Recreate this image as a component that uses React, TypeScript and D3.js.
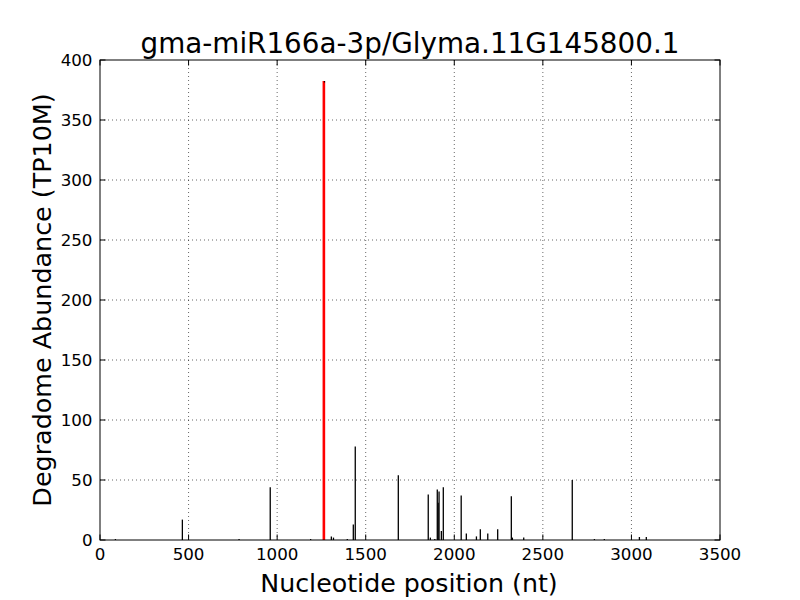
import React from "react";
import * as d3 from "d3";

const positions = [87, 465, 785, 961, 1189, 1306, 1318, 1396, 1430, 1441, 1684, 1853, 1865, 1890, 1904, 1909, 1914, 1927, 1938, 2039, 2068, 2125, 2147, 2189, 2245, 2322, 2328, 2392, 2666, 2791, 2847, 3045, 3084];
const values = [0.8, 17, 0.8, 44, 0.8, 3, 2, 0.8, 13, 78, 54, 38, 2, 0.8, 42, 31, 40.5, 7.5, 44, 37, 5.5, 3, 9, 5.5, 9, 36.5, 2, 2, 50, 0.8, 0.8, 2.5, 2.5];
const peakPosition = [1261];
const peakValue = [382.5];
const xTicks = [0, 500, 1000, 1500, 2000, 2500, 3000, 3500];
const yTicks = [0, 50, 100, 150, 200, 250, 300, 350, 400];
const title = "gma-miR166a-3p/Glyma.11G145800.1";
const xLabel = "Nucleotide position (nt)";
const yLabel = "Degradome Abundance (TP10M)";

export default function App() {
  const W = 800, H = 600;
  const left = 100, right = 720, top = 60, bottom = 540;
  const x = d3.scaleLinear().domain([0, 3500]).range([left, right]);
  const y = d3.scaleLinear().domain([0, 400]).range([bottom, top]);
  const font = "DejaVu Sans";
  const tl = 5.5;
  return (
    <svg width={W} height={H} style={{ position: "absolute", left: 0, top: 0, background: "#fff" }} fontFamily={font}>
      <rect x={0} y={0} width={W} height={H} fill="#fff" />
      {/* grid */}
      {xTicks.slice(1, -1).map((t) => (
        <line key={"gx" + t} x1={x(t)} x2={x(t)} y1={top} y2={bottom} stroke="#000" strokeWidth={0.6} strokeDasharray="1,3" />
      ))}
      {yTicks.slice(1, -1).map((t) => (
        <line key={"gy" + t} x1={left} x2={right} y1={y(t)} y2={y(t)} stroke="#000" strokeWidth={0.6} strokeDasharray="1,3" />
      ))}
      {/* bars */}
      {positions.map((p, i) => (
        <line key={"b" + i} x1={x(p)} x2={x(p)} y1={y(0)} y2={y(values[i])} stroke="#000" strokeWidth={1.3} />
      ))}
      {peakPosition.map((p, i) => (
        <g key={"p" + i}>
          <line x1={x(p) + 0.5} x2={x(p) + 0.5} y1={y(0)} y2={y(peakValue[i])} stroke="#ff0000" strokeWidth={2.6} />
          <line x1={x(p) + 1.2} x2={x(p) + 1.2} y1={y(peakValue[i])} y2={y(peakValue[i]) + 1.5} stroke="#000" strokeWidth={1} />
        </g>
      ))}
      {/* ticks */}
      {xTicks.map((t) => (
        <g key={"tx" + t}>
          <line x1={x(t)} x2={x(t)} y1={bottom} y2={bottom - tl} stroke="#000" strokeWidth={1} />
          <line x1={x(t)} x2={x(t)} y1={top} y2={top + tl} stroke="#000" strokeWidth={1} />
          <text x={x(t)} y={559.5} textAnchor="middle" fontSize={16.7}>{t}</text>
        </g>
      ))}
      {yTicks.map((t) => (
        <g key={"ty" + t}>
          <line x1={left} x2={left + tl} y1={y(t)} y2={y(t)} stroke="#000" strokeWidth={1} />
          <line x1={right} x2={right - tl} y1={y(t)} y2={y(t)} stroke="#000" strokeWidth={1} />
          <text x={92.5} y={y(t) + 6} textAnchor="end" fontSize={16.7}>{t}</text>
        </g>
      ))}
      <rect x={left} y={top} width={right - left} height={bottom - top} fill="none" stroke="#000" strokeWidth={1} />
      <text x={410} y={53} textAnchor="middle" fontSize={27.8}>{title}</text>
      <text x={409} y={591.5} textAnchor="middle" fontSize={25.3}>{xLabel}</text>
      <text transform={`translate(51,300) rotate(-90)`} textAnchor="middle" fontSize={25.4}>{yLabel}</text>
    </svg>
  );
}
